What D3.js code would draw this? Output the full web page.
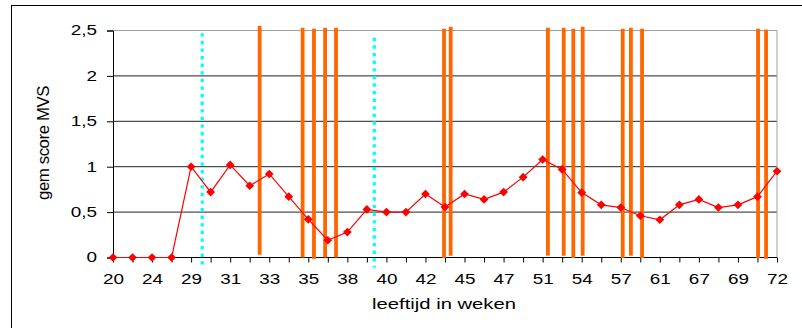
<!DOCTYPE html>
<html><head><meta charset="utf-8">
<script src="https://cdn.jsdelivr.net/npm/d3@7"></script>
<style>html,body{margin:0;padding:0;background:#fff;} svg{display:block;font-family:"Liberation Sans",Arial,sans-serif;}</style>
</head><body>
<script>
// category index 0..34 (weeks), labels shown on every other category
const categories = d3.range(35);
const tickLabels = ["20","24","29","31","33","35","38","40","42","45","47","51","54","57","61","67","69","72"];
const yTicks = [0, 0.5, 1, 1.5, 2, 2.5];
const scores = [0,0,0,0,1.00,0.72,1.02,0.79,0.92,0.67,0.42,0.19,0.28,0.53,0.50,0.50,0.70,0.555,0.70,0.64,0.72,0.885,1.08,0.97,0.715,0.58,0.55,0.46,0.415,0.58,0.64,0.55,0.58,0.67,0.95];
// orange event markers (position on category scale, bottom / top value)
const eventPos = [7.51,9.71,10.29,10.86,11.42,16.95,17.29,22.27,23.08,23.57,24.05,26.10,26.52,27.09,33.03,33.44];
const eventTop = [2.55,2.53,2.52,2.53,2.53,2.52,2.54,2.53,2.53,2.52,2.54,2.52,2.53,2.52,2.52,2.51];
const eventBottom = [0.03,0,-0.015,0,0,-0.005,0.02,0.02,0.02,-0.005,0.02,-0.005,0.02,-0.005,-0.005,-0.015];
// cyan dotted markers
const cyanPos = [4.57, 13.38];
const cyanTop = [2.47, 2.42];
const cyanBottom = [-0.08, -0.11];

const W = 802, H = 328, SX = 1.35;
const svg = d3.select("body").append("svg").attr("width", W).attr("height", H);
svg.append("rect").attr("width", W).attr("height", H).attr("fill", "#fff");
// outer frame
svg.append("rect").attr("x", 11.5).attr("y", 5.5).attr("width", 800).attr("height", 330)
  .attr("fill", "none").attr("stroke", "#000").attr("stroke-width", 1);

const x = d3.scaleLinear().domain([0, 34]).range([113, 777]);
const y = d3.scaleLinear().domain([0, 2.5]).range([257.5, 30.5]);

// gridlines
svg.append("g").selectAll("line").data(yTicks.filter(d => d > 0)).join("line")
  .attr("x1", x(0)).attr("x2", x(34)).attr("y1", d => y(d)).attr("y2", d => y(d))
  .attr("stroke", d => d === 2.5 ? "#a0a0a0" : "#222").attr("stroke-width", 1);
// right plot border
svg.append("line").attr("x1", x(34)).attr("x2", x(34)).attr("y1", y(2.5)).attr("y2", y(0))
  .attr("stroke", "#a0a0a0");

// y axis
const yAxis = svg.append("g").attr("transform", `translate(${x(0)},0)`)
  .call(d3.axisLeft(y).tickValues(yTicks).tickSize(6).tickPadding(10)
    .tickFormat(d => String(d).replace(".", ",")));
yAxis.select(".domain").attr("stroke", "#000");
yAxis.selectAll(".tick line").attr("stroke", "#000");
yAxis.selectAll(".tick text").attr("font-size", 14).attr("fill", "#000")
  .attr("font-family", "Liberation Sans, Arial, sans-serif")
  .attr("x", -16 / SX).attr("transform", `scale(${SX},1)`);

// x axis
const xAxis = svg.append("g").attr("transform", `translate(0,${y(0)})`)
  .call(d3.axisBottom(x).tickValues(categories).tickSize(5).tickPadding(12)
    .tickFormat(d => d % 2 === 0 ? tickLabels[d / 2] : ""));
xAxis.select(".domain").attr("stroke", "#000").attr("d", `M${x(0)},0H${x(34)}`);
xAxis.selectAll(".tick line").attr("stroke", "#000");
xAxis.selectAll(".tick text").attr("font-size", 14).attr("fill", "#000")
  .attr("font-family", "Liberation Sans, Arial, sans-serif")
  .attr("transform", `scale(${SX},1)`);

// cyan dotted lines
svg.append("g").selectAll("line").data(cyanPos).join("line")
  .attr("x1", d => x(d)).attr("x2", d => x(d))
  .attr("y1", (d, i) => y(cyanTop[i])).attr("y2", (d, i) => y(cyanBottom[i]))
  .attr("stroke", "#00ffff").attr("stroke-width", 3.2).attr("stroke-dasharray", "3.4,4.2");

// orange event bars
svg.append("g").selectAll("line").data(eventPos).join("line")
  .attr("x1", d => x(d)).attr("x2", d => x(d))
  .attr("y1", (d, i) => y(eventTop[i])).attr("y2", (d, i) => y(eventBottom[i]))
  .attr("stroke", "#ff6600").attr("stroke-width", 3.8);

// red line series
const line = d3.line().x((d, i) => x(i)).y(d => y(d));
svg.append("path").datum(scores).attr("d", line)
  .attr("fill", "none").attr("stroke", "#ff0000").attr("stroke-width", 1.2);
svg.append("g").selectAll("path").data(scores).join("path")
  .attr("transform", (d, i) => `translate(${x(i)},${y(d)})`)
  .attr("d", "M0,-4.3L4.4,0L0,4.3L-4.4,0Z").attr("fill", "#ff0000");

// axis titles
svg.append("text").attr("transform", `translate(444,309) scale(${SX},1)`)
  .attr("text-anchor", "middle").attr("font-size", 15).attr("fill", "#000")
  .text("leeftijd in weken");
svg.append("text").attr("transform", `translate(49,143) scale(${SX},1.4) rotate(-90)`)
  .attr("text-anchor", "middle").attr("font-size", 12).attr("fill", "#000")
  .attr("letter-spacing", "-0.3")
  .text("gem score MVS");
</script>
</body></html>
